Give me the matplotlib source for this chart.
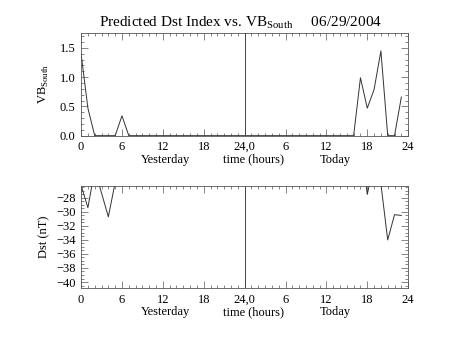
import numpy as np
import matplotlib
matplotlib.use("Agg")
import matplotlib.pyplot as plt
from matplotlib.ticker import MultipleLocator

# hours since start of yesterday (0..47)
hours = np.arange(48)

vb_south = [1.4, 0.47, 0, 0, 0, 0, 0.34, 0, 0, 0, 0, 0,
            0, 0, 0, 0, 0, 0, 0, 0, 0, 0, 0, 0,
            0, 0, 0, 0, 0, 0, 0, 0, 0, 0, 0, 0,
            0, 0, 0, 0, 0, 0.99, 0.47, 0.79, 1.45, 0, 0, 0.66]

# values above the axis top are clipped in the plot
dst = [-26.2, -29.4, -24.0, -27.3, -30.7, -25.8, -20, -20, -20, -20, -20, -20,
       -20, -20, -20, -20, -20, -20, -20, -20, -20, -20, -20, -20,
       -20, -20, -20, -20, -20, -20, -20, -20, -20, -20, -20, -20,
       -20, -20, -20, -20, -20, -20, -27.5, -23.0, -26.0, -34.0, -30.4, -30.5]

xticks = [0, 6, 12, 18, 24, 30, 36, 42, 48]
xticklabels = ["0", "6", "12", "18", "24,0", "6", "12", "18", "24"]

plt.rcParams["font.family"] = ["Liberation Serif", "DejaVu Serif"]
plt.rcParams["font.size"] = 9
plt.rcParams["mathtext.fontset"] = "custom"
plt.rcParams["mathtext.rm"] = "Liberation Serif"

fig = plt.figure(figsize=(4.53, 3.40), dpi=100)
ax1 = fig.add_axes([0.179, 0.601, 0.722, 0.301])
ax2 = fig.add_axes([0.179, 0.152, 0.722, 0.301])


def style(ax):
    ax.set_xlim(0, 48)
    ax.set_xticks(xticks)
    ax.set_xticklabels(xticklabels)
    ax.xaxis.set_minor_locator(MultipleLocator(1))
    ax.tick_params(which="both", direction="in", top=True, right=True,
                   width=0.5, color="#555555", labelsize=9, pad=4)
    ax.tick_params(which="major", length=5)
    ax.tick_params(which="minor", length=2.5)
    for s in ax.spines.values():
        s.set_linewidth(0.6)
        s.set_color("#555555")
    ax.axvline(24, color="#444444", lw=0.7)
    ax.text(12.4, -0.175, "Yesterday", transform=ax.get_xaxis_transform(),
            ha="center", va="top", fontsize=9)
    ax.text(25.3, -0.175, "time (hours)", transform=ax.get_xaxis_transform(),
            ha="center", va="top", fontsize=9)
    ax.text(37.3, -0.175, "Today", transform=ax.get_xaxis_transform(),
            ha="center", va="top", fontsize=9)


ax1.plot(hours, vb_south, color="#333333", lw=0.7, clip_on=True)
style(ax1)
ax1.set_ylim(0, 1.75)
ax1.set_yticks([0, 0.5, 1.0, 1.5])
ax1.set_yticklabels(["0.0", "0.5", "1.0", "1.5"])
ax1.yaxis.set_minor_locator(MultipleLocator(0.1))
ax1.set_ylabel("VB$_{\\mathregular{South}}$", fontsize=9, labelpad=6)

ax2.plot(hours, dst, color="#333333", lw=0.7, clip_on=True)
style(ax2)
ax2.set_ylim(-40.9, -26.3)
ax2.set_yticks(np.arange(-40, -27, 2))
ax2.set_yticklabels(["\u221240", "\u221238", "\u221236", "\u221234",
                     "\u221232", "\u221230", "\u221228"])
ax2.yaxis.set_minor_locator(MultipleLocator(0.5))
ax2.set_ylabel("Dst (nT)", fontsize=9, labelpad=4)

fig.text(0.53, 0.91, "Predicted Dst Index vs. VB$_{\\mathregular{South}}$     06/29/2004",
         ha="center", va="bottom", fontsize=11)

fig.savefig("out.png", dpi=100)
